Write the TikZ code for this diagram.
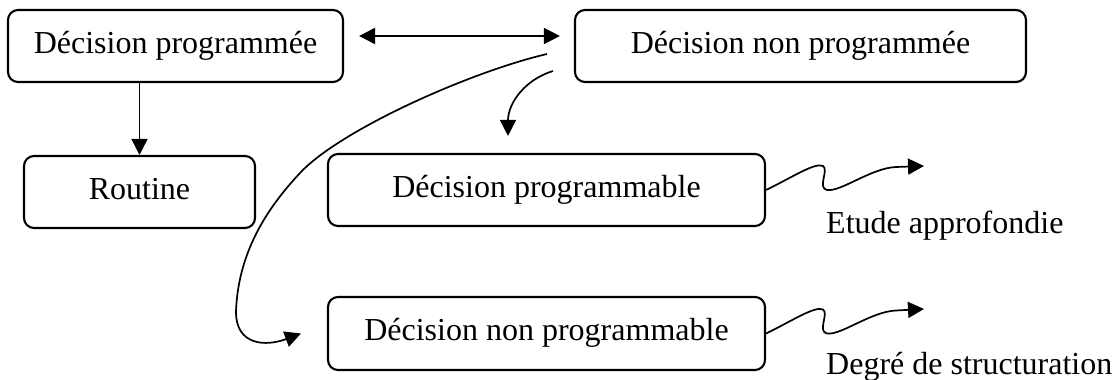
\documentclass[tikz,border=0pt]{standalone}
\usepackage{fontspec}
\setmainfont{Liberation Serif}
\usetikzlibrary{arrows.meta,calc}
\begin{document}
\begin{tikzpicture}[x=1pt,y=-1pt,
  box/.style={draw,line width=2.1pt,rounded corners=10pt,inner sep=0pt,
    text height=14pt,text depth=0pt,
    font=\fontsize{32}{38}\selectfont},
  lbl/.style={anchor=base west,inner sep=0pt,font=\fontsize{32}{38}\selectfont},
  tip/.style={Triangle[length=16pt,width=16pt]},
  conn/.style={line width=1.7pt,-{Triangle[length=16pt,width=16pt]}},
  biconn/.style={line width=1.7pt,{Triangle[length=16pt,width=16pt]}-{Triangle[length=16pt,width=16pt]}}]
\useasboundingbox (0,0) rectangle (1117,380);

% decision boxes
\node[box,minimum width=335pt,minimum height=72pt] (dp)  at (175.5,46)  {Décision programmée};
\node[box,minimum width=451pt,minimum height=72pt] (dnp) at (800.5,46)  {Décision non programmée};
\node[box,minimum width=231pt,minimum height=72pt] (rt)  at (139.5,192) {Routine};
\node[box,minimum width=437pt,minimum height=72pt] (dpa) at (546.5,190) {Décision programmable};
\node[box,minimum width=437pt,minimum height=73pt] (dna) at (546.5,333.5) {Décision non programmable};

% outcome labels
\node[lbl] (etude) at (826,233) {Etude approfondie};
\node[lbl] (degre) at (826,374) {Degré de structuration};

% free ends of the wavy arrows
\coordinate (w1) at (924,166);
\coordinate (w2) at (924,309);

% links between the decisions
\draw[biconn] ($(dp.east)+(15,-10)$) -- ($(dnp.west)+(-14,-10)$);
\draw[conn] (rt.north |- dp.south) -- (rt.north);
\draw[conn] ($(dnp.west)+(-21,25)$) .. controls +(-29,9) and +(0,-32) .. ($(dpa.north)+(-38.5,-17)$);
\draw[conn] ($(dnp.west)+(-27,8)$) .. controls (470,72) and (340,130) .. (300,173)
  .. controls (272,203) and (238,248) .. (236,312)
  .. controls (236,345) and (265,347) .. ($(dna.west)+(-26,0)$);

% wavy arrows towards the outcomes
\draw[conn] (dpa.east) .. controls +(25,-12) and +(-8,-4) .. ++(57,-24)
  .. controls +(6,4) and +(-10,-2) .. ++(4,24)
  .. controls +(14,2) and +(-25,1) .. ++(69,-23) -- (w1);
\draw[conn] (dna.east) .. controls +(25,-12) and +(-8,-4) .. ++(57,-24)
  .. controls +(6,4) and +(-10,-2) .. ++(4,24)
  .. controls +(14,2) and +(-25,1) .. ++(69,-23) -- (w2);
\end{tikzpicture}
\end{document}
